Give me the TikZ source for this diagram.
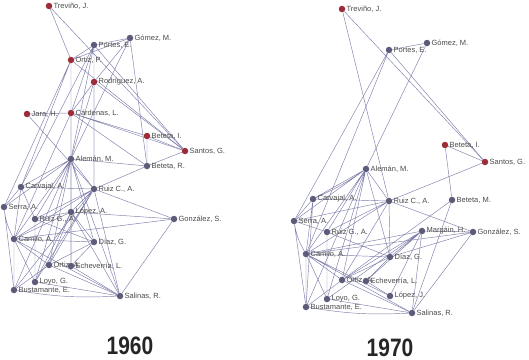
\documentclass[tikz,border=0pt]{standalone}
\usepackage{fontspec}
\setmainfont{Liberation Sans}
\usepackage{graphicx}
\usetikzlibrary{backgrounds}
\definecolor{dotred}{HTML}{9C2D38}
\definecolor{dotblue}{HTML}{5C5C7A}
\definecolor{tiecol}{HTML}{7E7EAA}
\definecolor{namegray}{HTML}{4A4A4A}

\begin{document}
\begin{tikzpicture}[
    x=1pt, y=-1pt,
    actor/.style={circle, fill=dotblue, inner sep=0pt, minimum size=6.5pt},
    redactor/.style={actor, fill=dotred},
    actorname/.style={text=namegray, font=\fontsize{7.5}{8}\selectfont, inner sep=1pt},
    tie/.style={draw=tiecol, line width=0.45pt},
    year/.style={font=\bfseries\fontsize{21}{24}\selectfont, text=black!85}
]
\useasboundingbox (0,0) rectangle (529,359);

% 1960
\node[redactor, label={[actorname]right:{Treviño, J.}}] (a-tre) at (49,6) {};
\node[actor, label={[actorname]right:{Portes, E.}}] (a-por) at (94,45) {};
\node[actor, label={[actorname]right:{Gómez, M.}}] (a-gom) at (130,38) {};
\node[redactor, label={[actorname]right:{Ortiz, P.}}] (a-orp) at (71,60) {};
\node[redactor, label={[actorname]right:{Rodríguez, A.}}] (a-rod) at (94,82) {};
\node[redactor, label={[actorname]right:{Jara, H.}}] (a-jar) at (27,114) {};
\node[redactor, label={[actorname]right:{Cárdenas, L.}}] (a-car) at (71,113) {};
\node[redactor, label={[actorname]right:{Beteta, I.}}] (a-bti) at (147,136) {};
\node[redactor, label={[actorname]right:{Santos, G.}}] (a-san) at (185,151) {};
\node[actor, label={[actorname]right:{Alemán, M.}}] (a-ale) at (71,159) {};
\node[actor, label={[actorname]right:{Beteta, R.}}] (a-btr) at (147,166) {};
\node[actor, label={[actorname]right:{Carvajal, A.}}] (a-cvj) at (21,187) {};
\node[actor, label={[actorname]right:{Ruiz C., A.}}] (a-ruc) at (94,189) {};
\node[actor, label={[actorname]right:{Serra, A.}}] (a-ser) at (4,207) {};
\node[actor, label={[actorname]right:{López, A.}}] (a-lop) at (71,212) {};
\node[actor, label={[actorname]right:{Ruiz G., A.}}] (a-rug) at (35,219) {};
\node[actor, label={[actorname]right:{González, S.}}] (a-gon) at (174,219) {};
\node[actor, label={[actorname]right:{Camilo, A.}}] (a-cam) at (14,239) {};
\node[actor, label={[actorname]right:{Díaz, G.}}] (a-dia) at (94,242) {};
\node[actor, label={[actorname]right:{Ortiz, A.}}] (a-ora) at (49,265) {};
\node[actor, label={[actorname]right:{Echeverría, L.}}] (a-ech) at (71,266) {};
\node[actor, label={[actorname]right:{Loyo, G.}}] (a-loy) at (35,282) {};
\node[actor, label={[actorname]right:{Bustamante, E.}}] (a-bus) at (14,290) {};
\node[actor, label={[actorname]right:{Salinas, R.}}] (a-sal) at (120,296) {};

% 1970
\node[redactor, label={[actorname]right:{Treviño, J.}}] (b-tre) at (342,9) {};
\node[actor, label={[actorname]right:{Portes, E.}}] (b-por) at (389,50) {};
\node[actor, label={[actorname]right:{Gómez, M.}}] (b-gom) at (427,43) {};
\node[redactor, label={[actorname]right:{Beteta, I.}}] (b-bti) at (445,145) {};
\node[redactor, label={[actorname]right:{Santos, G.}}] (b-san) at (485,162) {};
\node[actor, label={[actorname]right:{Alemán, M.}}] (b-ale) at (366,169) {};
\node[actor, label={[actorname]right:{Carvajal, A.}}] (b-cvj) at (313,199) {};
\node[actor, label={[actorname]right:{Ruiz C., A.}}] (b-ruc) at (389,201) {};
\node[actor, label={[actorname]right:{Beteta, M.}}] (b-btm) at (452,200) {};
\node[actor, label={[actorname]right:{Serra, A.}}] (b-ser) at (294,221) {};
\node[actor, label={[actorname]right:{Ruiz G., A.}}] (b-rug) at (327,232) {};
\node[actor, label={[actorname]right:{Margáin, H.}}] (b-mar) at (422,231) {};
\node[actor, label={[actorname]right:{González, S.}}] (b-gon) at (473,232) {};
\node[actor, label={[actorname]right:{Camilo, A.}}] (b-cam) at (306,254) {};
\node[actor, label={[actorname]right:{Díaz, G.}}] (b-dia) at (390,257) {};
\node[actor, label={[actorname]right:{Ortiz, A.}}] (b-ora) at (342,280) {};
\node[actor, label={[actorname]right:{Echeverría, L.}}] (b-ech) at (366,281) {};
\node[actor, label={[actorname]right:{López, J.}}] (b-lpj) at (390,296) {};
\node[actor, label={[actorname]right:{Loyo, G.}}] (b-loy) at (327,299) {};
\node[actor, label={[actorname]right:{Bustamante, E.}}] (b-bus) at (306,307) {};
\node[actor, label={[actorname]right:{Salinas, R.}}] (b-sal) at (412,313) {};

\node[year] (y1960) at (130,346) {\scalebox{1}[1.2]{1960}};
\node[year] (y1970) at (390,348) {\scalebox{1}[1.2]{1970}};

\begin{scope}[on background layer]
\draw[tie] (a-tre) -- (a-orp) (a-tre) -- (a-san);
\draw[tie] (a-por) -- (a-gom) (a-por) -- (a-orp) (a-por) -- (a-rod) (a-por) -- (a-car) (a-por) -- (a-ale) (a-por) -- (a-ruc) (a-por) -- (a-san) (a-por) -- (a-cvj);
\draw[tie] (a-gom) -- (a-orp) (a-gom) -- (a-rod) (a-gom) -- (a-ale) (a-gom) -- (a-btr);
\draw[tie] (a-orp) -- (a-car) (a-orp) -- (a-ale) (a-orp) -- (a-san) (a-orp) -- (a-cvj) (a-orp) -- (a-ser) (a-orp) -- (a-lop);
\draw[tie] (a-rod) -- (a-car) (a-rod) -- (a-ruc) (a-rod) -- (a-san) (a-rod) -- (a-ale);
\draw[tie] (a-jar) -- (a-car) (a-jar) -- (a-ruc);
\draw[tie] (a-car) -- (a-bti) (a-car) -- (a-san) (a-car) -- (a-btr) (a-car) -- (a-ale) (a-car) -- (a-lop) (a-car) -- (a-cam) (a-car) -- (a-ech);
\draw[tie] (a-bti) -- (a-btr) (a-bti) -- (a-san) (a-san) -- (a-btr);
\draw[tie] (a-ale) -- (a-btr) (a-ale) -- (a-cvj) (a-ale) -- (a-ruc) (a-ale) -- (a-ser) (a-ale) -- (a-rug) (a-ale) -- (a-cam) (a-ale) -- (a-lop) (a-ale) -- (a-ora) (a-ale) -- (a-dia) (a-ale) -- (a-bus) (a-ale) -- (a-loy) (a-ale) -- (a-sal) (a-ale) -- (a-ech);
\draw[tie] (a-btr) -- (a-ruc);
\draw[tie] (a-cvj) -- (a-ruc) (a-cvj) -- (a-ser) (a-cvj) -- (a-cam) (a-cvj) -- (a-rug);
\draw[tie] (a-ruc) -- (a-cam) (a-ruc) -- (a-rug) (a-ruc) -- (a-lop) (a-ruc) -- (a-ora) (a-ruc) -- (a-gon) (a-ruc) -- (a-sal) (a-ruc) -- (a-loy) (a-ruc) -- (a-bus);
\draw[tie] (a-ser) to[bend right=10] (a-cam) (a-ser) -- (a-bus);
\draw[tie] (a-lop) -- (a-rug) (a-lop) -- (a-cam) (a-lop) -- (a-dia) (a-lop) -- (a-ora) (a-lop) -- (a-loy) (a-lop) -- (a-gon) (a-lop) -- (a-sal) (a-lop) -- (a-ech);
\draw[tie] (a-rug) -- (a-loy) (a-rug) -- (a-dia);
\draw[tie] (a-gon) -- (a-cam) (a-gon) -- (a-sal);
\draw[tie] (a-cam) -- (a-dia) (a-cam) -- (a-sal) (a-cam) -- (a-bus) (a-cam) -- (a-ora) (a-cam) -- (a-loy);
\draw[tie] (a-dia) -- (a-ora) (a-dia) -- (a-ech);
\draw[tie] (a-ora) -- (a-sal) (a-ora) -- (a-bus);
\draw[tie] (a-bus) to[bend right=6] (a-sal) (a-loy) -- (a-sal) (a-ech) -- (a-sal);

\draw[tie] (b-tre) -- (b-san) (b-tre) -- (b-ruc);
\draw[tie] (b-por) -- (b-gom) (b-por) -- (b-san) (b-por) -- (b-ser) (b-por) -- (b-cam);
\draw[tie] (b-gom) -- (b-ale);
\draw[tie] (b-bti) -- (b-san) (b-bti) -- (b-btm) (b-san) -- (b-ruc);
\draw[tie] (b-ale) -- (b-cvj) (b-ale) to[bend left=5] (b-cvj) (b-ale) -- (b-ruc) (b-ale) -- (b-ser) (b-ale) -- (b-rug) (b-ale) -- (b-cam) (b-ale) -- (b-ora) (b-ale) -- (b-dia) (b-ale) -- (b-loy) (b-ale) -- (b-bus);
\draw[tie] (b-cvj) -- (b-ruc) (b-cvj) -- (b-ser) (b-cvj) -- (b-cam) (b-cvj) -- (b-bus);
\draw[tie] (b-ruc) -- (b-rug) (b-ruc) -- (b-cam) (b-ruc) -- (b-gon) (b-ruc) -- (b-ora) (b-ruc) -- (b-dia) (b-ruc) -- (b-ser);
\draw[tie] (b-btm) -- (b-ora) (b-btm) -- (b-sal);
\draw[tie] (b-ser) to[bend right=10] (b-cam) (b-ser) -- (b-bus) (b-ser) -- (b-rug);
\draw[tie] (b-rug) -- (b-loy) (b-rug) -- (b-dia);
\draw[tie] (b-mar) -- (b-gon) (b-mar) -- (b-cam) (b-mar) -- (b-dia) (b-mar) -- (b-ora) (b-mar) -- (b-ech) (b-mar) -- (b-sal) (b-mar) -- (b-lpj) (b-mar) -- (b-loy);
\draw[tie] (b-gon) -- (b-cam) (b-gon) -- (b-sal) (b-gon) -- (b-dia);
\draw[tie] (b-cam) -- (b-dia) (b-cam) -- (b-sal) (b-cam) -- (b-bus) (b-cam) -- (b-ora) (b-cam) -- (b-loy) (b-cam) -- (b-lpj);
\draw[tie] (b-dia) -- (b-ora) (b-dia) -- (b-ech);
\draw[tie] (b-ora) -- (b-bus) (b-ora) -- (b-sal) (b-ech) -- (b-lpj);
\draw[tie] (b-bus) to[bend right=6] (b-sal) (b-loy) -- (b-sal);
\end{scope}
\end{tikzpicture}
\end{document}
